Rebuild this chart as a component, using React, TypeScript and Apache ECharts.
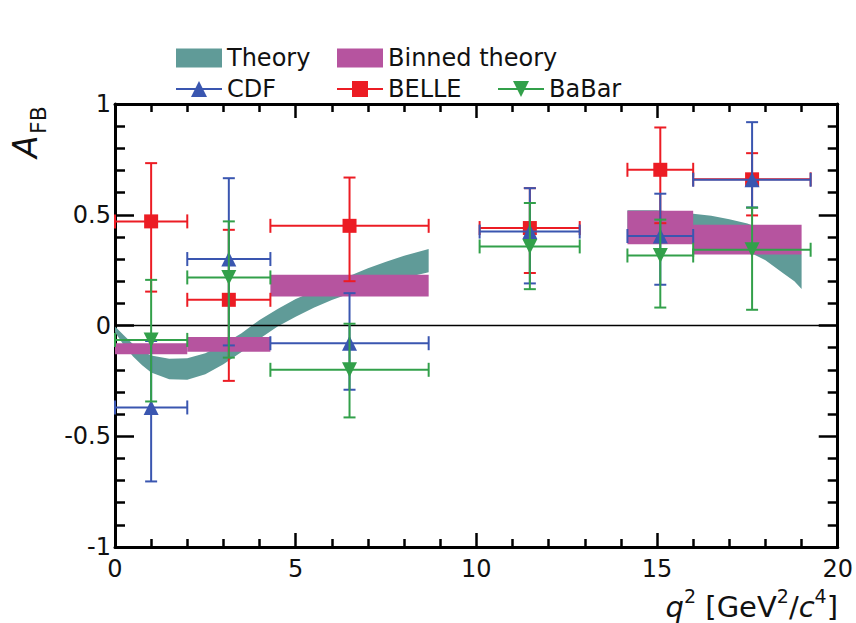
import React, { useEffect, useRef } from 'react';
import * as echarts from 'echarts';

// q^2 bins (GeV^2/c^4) used by the measurements
const binLow = [0, 2, 4.3, 10.09, 14.18, 16];
const binHigh = [2, 4.3, 8.68, 12.86, 16, 19.25];
const binCenter = [1.0, 3.15, 6.49, 11.48, 15.09, 17.63];

// CDF
const cdfValue = [-0.37, 0.3, -0.08, 0.424, 0.404, 0.658];
const cdfUpper = [-0.07, 0.665, 0.146, 0.62, 0.595, 0.918];
const cdfLower = [-0.704, -0.09, -0.29, 0.19, 0.184, 0.533];

// BELLE
const belleValue = [0.47, 0.116, 0.45, 0.44, 0.703, 0.66];
const belleUpper = [0.733, 0.432, 0.668, 0.62, 0.894, 0.778];
const belleLower = [0.153, -0.25, 0.2, 0.237, 0.462, 0.497];

// BaBar
const babarValue = [-0.065, 0.217, -0.2, 0.357, 0.316, 0.342];
const babarUpper = [0.206, 0.47, 0.008, 0.553, 0.478, 0.532];
const babarLower = [-0.343, -0.145, -0.415, 0.164, 0.081, 0.071];

// Theory band, low-q^2 region
const theoryQ2A = [0, 0.25, 0.5, 0.75, 1, 1.5, 2, 2.5, 3, 3.5, 4, 4.5, 5, 5.5, 6, 6.5, 7, 7.5, 8, 8.68];
const theoryHiA = [-0.004, -0.045, -0.085, -0.115, -0.135, -0.15, -0.148, -0.125, -0.085, -0.035, 0.025, 0.075, 0.12, 0.155, 0.19, 0.225, 0.258, 0.288, 0.315, 0.345];
const theoryLoA = [-0.03, -0.09, -0.14, -0.18, -0.212, -0.243, -0.245, -0.22, -0.175, -0.12, -0.06, -0.005, 0.04, 0.08, 0.115, 0.145, 0.17, 0.195, 0.215, 0.24];

// Theory band, high-q^2 region
const theoryQ2B = [14.18, 15, 16, 16.5, 17, 17.5, 18, 18.5, 18.8, 19.0];
const theoryHiB = [0.52, 0.52, 0.505, 0.495, 0.48, 0.46, 0.43, 0.385, 0.35, 0.32];
const theoryLoB = [0.42, 0.43, 0.42, 0.395, 0.365, 0.335, 0.295, 0.235, 0.2, 0.165];

// Binned theory
const binThLow = [0, 2, 4.3, 14.18, 16];
const binThHigh = [2, 4.3, 8.68, 16, 19.0];
const binThMin = [-0.13, -0.118, 0.131, 0.367, 0.32];
const binThMax = [-0.08, -0.052, 0.229, 0.518, 0.455];

const TEAL = '#609b98';
const MAGENTA = '#b6549f';
const BLUE = '#3a56b0';
const RED = '#ec1c24';
const GREEN = '#32a04a';
const FONT = 'DejaVu Sans';

const bandPieces = [
  { q2: theoryQ2A, hi: theoryHiA, lo: theoryLoA },
  { q2: theoryQ2B, hi: theoryHiB, lo: theoryLoB },
];

// Legend icons: a horizontal line with the marker drawn over its middle
const iconUp = 'path://M0 7H46V9H0Z M15 16L23 0L31 16Z';
const iconSquare = 'path://M0 7H46V9H0Z M15 0H31V16H15Z';
const iconDown = 'path://M0 7H46V9H0Z M15 0L31 0L23 16Z';

function errorBars(name: string, color: string, values: number[], upper: number[], lower: number[], z: number) {
  return {
    type: 'custom',
    name,
    z,
    silent: true,
    encode: { x: 0, y: 1 },
    data: values.map((v, i) => [binCenter[i], v, binLow[i], binHigh[i], lower[i], upper[i]]),
    renderItem: (_params: any, api: any) => {
      const xc = api.value(0);
      const y = api.value(1);
      const p = api.coord([xc, y]);
      const pl = api.coord([api.value(2), y]);
      const pr = api.coord([api.value(3), y]);
      const pb = api.coord([xc, api.value(4)]);
      const pt = api.coord([xc, api.value(5)]);
      const style = { stroke: color, lineWidth: 2, fill: null };
      const capH = 7;
      const capW = 6;
      const seg = (x1: number, y1: number, x2: number, y2: number) => ({
        type: 'line',
        shape: { x1, y1, x2, y2 },
        style,
      });
      return {
        type: 'group',
        children: [
          seg(pl[0], p[1], pr[0], p[1]),
          seg(p[0], pt[1], p[0], pb[1]),
          seg(pl[0], p[1] - capH, pl[0], p[1] + capH),
          seg(pr[0], p[1] - capH, pr[0], p[1] + capH),
          seg(p[0] - capW, pt[1], p[0] + capW, pt[1]),
          seg(p[0] - capW, pb[1], p[0] + capW, pb[1]),
        ],
      };
    },
  };
}

function markers(name: string, color: string, values: number[], symbol: string, size: number, rotate: number, z: number) {
  return {
    type: 'scatter',
    name,
    z,
    symbol,
    symbolSize: size,
    symbolRotate: rotate,
    itemStyle: { color, opacity: 1 },
    data: values.map((v, i) => [binCenter[i], v]),
  };
}

const tickLine = { color: '#000', width: 2.5 };

function xAxisDef(position: 'bottom' | 'top', labels: boolean) {
  return {
    type: 'value',
    position,
    min: 0,
    max: 20,
    interval: 5,
    axisLine: { show: true, onZero: false, lineStyle: { color: '#000', width: 3 } },
    axisTick: { show: true, inside: true, length: 14, lineStyle: tickLine },
    minorTick: { show: true, splitNumber: 5, length: 8, lineStyle: tickLine },
    splitLine: { show: false },
    minorSplitLine: { show: false },
    axisLabel: { show: labels, fontSize: 24, color: '#111', fontFamily: FONT, margin: 10 },
  };
}

function yAxisDef(position: 'left' | 'right', labels: boolean) {
  return {
    type: 'value',
    position,
    min: -1,
    max: 1,
    interval: 0.5,
    axisLine: { show: true, onZero: false, lineStyle: { color: '#000', width: 3 } },
    axisTick: { show: true, inside: true, length: 19, lineStyle: tickLine },
    minorTick: { show: true, splitNumber: 5, length: 10, lineStyle: tickLine },
    splitLine: { show: false },
    minorSplitLine: { show: false },
    axisLabel: { show: labels, fontSize: 24, color: '#111', fontFamily: FONT, margin: 4 },
  };
}

const legendText = { fontSize: 24, color: '#111', fontFamily: FONT };

function legendItem(name: string, icon: string, left: number, top: number, h: number) {
  return {
    data: [{ name, icon }],
    left,
    top,
    padding: 0,
    itemGap: 0,
    itemWidth: 46,
    itemHeight: h,
    selectedMode: false,
    textStyle: legendText,
  };
}

export default function App() {
  const ref = useRef<HTMLDivElement>(null);

  useEffect(() => {
    if (!ref.current) return;
    const chart = echarts.init(ref.current, undefined, { renderer: 'svg' });

    chart.setOption({
      animation: false,
      backgroundColor: '#fff',
      grid: { left: 115, right: 18, top: 104, bottom: 76, containLabel: false },
      xAxis: [xAxisDef('bottom', true), xAxisDef('top', false)],
      yAxis: [yAxisDef('left', true), yAxisDef('right', false)],
      legend: [
        legendItem('Theory', 'rect', 176, 46, 19),
        legendItem('Binned theory', 'rect', 337, 46, 19),
        legendItem('CDF', iconUp, 176, 77, 16),
        legendItem('BELLE', iconSquare, 337, 77, 16),
        legendItem('BaBar', iconDown, 498, 77, 16),
      ],
      graphic: [
        {
          type: 'text',
          x: 25,
          y: 158,
          rotation: Math.PI / 2,
          style: {
            text: 'A',
            fontSize: 33,
            fontStyle: 'italic',
            fontFamily: FONT,
            fill: '#111',
            align: 'left',
            verticalAlign: 'middle',
            textAlign: 'left',
            textVerticalAlign: 'middle',
          },
        },
        {
          type: 'text',
          x: 38,
          y: 134,
          rotation: Math.PI / 2,
          style: {
            text: 'FB',
            fontSize: 22,
            fontFamily: FONT,
            fill: '#111',
            align: 'left',
            verticalAlign: 'middle',
            textAlign: 'left',
            textVerticalAlign: 'middle',
          },
        },
        {
          type: 'text',
          x: 838,
          y: 621,
          style: {
            text: '{i|q}{s|2}{n| [GeV}{s|2}{n|/}{i|c}{s|4}{n|]}',
            fill: '#111',
            align: 'right',
            verticalAlign: 'bottom',
            textAlign: 'right',
            textVerticalAlign: 'bottom',
            rich: {
              i: { fontSize: 29, lineHeight: 35, fontStyle: 'italic', fontFamily: FONT, fill: '#111', verticalAlign: 'bottom' },
              n: { fontSize: 29, lineHeight: 35, fontFamily: FONT, fill: '#111', verticalAlign: 'bottom' },
              s: { fontSize: 19, lineHeight: 22, fontFamily: FONT, fill: '#111', verticalAlign: 'top' },
            },
          },
        },
      ],
      series: [
        {
          type: 'custom',
          name: 'Theory',
          z: 1,
          silent: true,
          itemStyle: { color: TEAL },
          encode: { x: 0, y: 1 },
          data: bandPieces.map((b) => [b.q2[0], b.lo[0]]),
          renderItem: (params: any, api: any) => {
            const piece = bandPieces[params.dataIndex];
            const pts: number[][] = [];
            piece.q2.forEach((q, i) => pts.push(api.coord([q, piece.hi[i]])));
            for (let i = piece.q2.length - 1; i >= 0; i--) pts.push(api.coord([piece.q2[i], piece.lo[i]]));
            return { type: 'polygon', shape: { points: pts }, style: { fill: TEAL } };
          },
        },
        {
          type: 'custom',
          name: 'Binned theory',
          z: 2,
          silent: true,
          itemStyle: { color: MAGENTA },
          encode: { x: 0, y: 2 },
          data: binThLow.map((x0, i) => [x0, binThHigh[i], binThMin[i], binThMax[i]]),
          renderItem: (_params: any, api: any) => {
            const a = api.coord([api.value(0), api.value(3)]);
            const b = api.coord([api.value(1), api.value(2)]);
            return {
              type: 'rect',
              shape: { x: a[0], y: a[1], width: b[0] - a[0], height: b[1] - a[1] },
              style: { fill: MAGENTA },
            };
          },
        },
        {
          type: 'line',
          name: 'zero',
          z: 3,
          silent: true,
          symbol: 'none',
          lineStyle: { color: '#000', width: 1.5 },
          data: [
            [0, 0],
            [20, 0],
          ],
        },
        errorBars('BELLE errors', RED, belleValue, belleUpper, belleLower, 4),
        markers('BELLE', RED, belleValue, 'rect', 14, 0, 5),
        errorBars('CDF errors', BLUE, cdfValue, cdfUpper, cdfLower, 6),
        markers('CDF', BLUE, cdfValue, 'triangle', 15, 0, 7),
        errorBars('BaBar errors', GREEN, babarValue, babarUpper, babarLower, 8),
        markers('BaBar', GREEN, babarValue, 'triangle', 15, 180, 9),
      ],
    });

    return () => chart.dispose();
  }, []);

  return <div ref={ref} style={{ position: 'absolute', left: 0, top: 0, width: 856, height: 623 }} />;
}
